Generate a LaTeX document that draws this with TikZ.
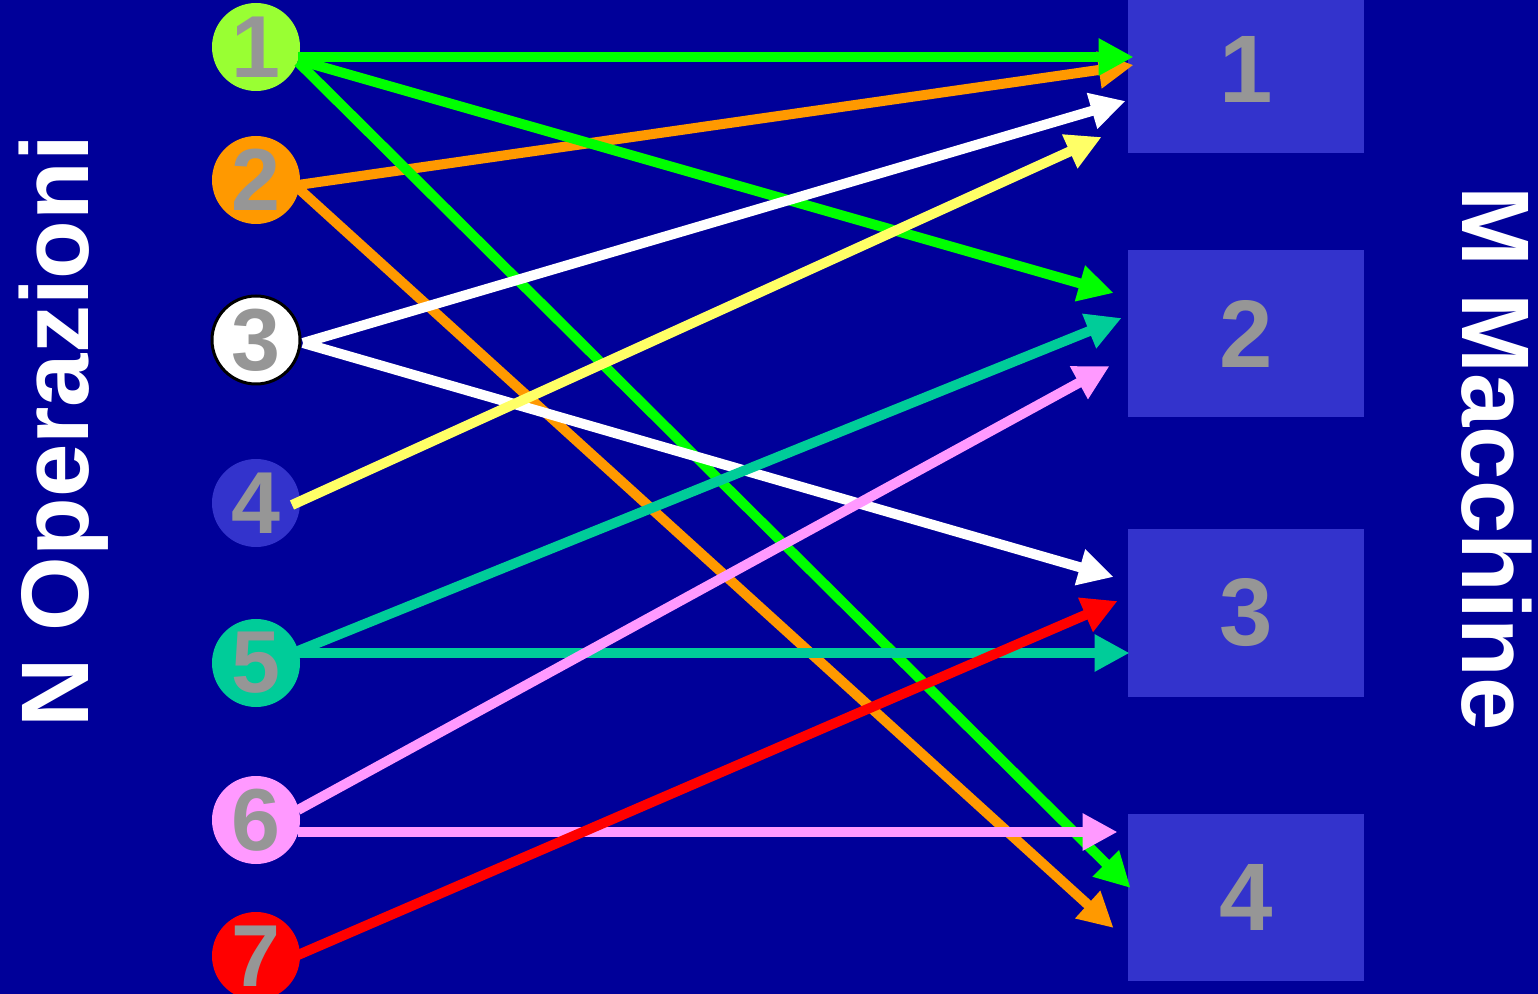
\documentclass[tikz,border=0pt]{standalone}
\usepackage{fontspec}
\setmainfont{Liberation Sans}
\usetikzlibrary{arrows.meta,calc}
\definecolor{bg}{HTML}{000099}
\definecolor{boxc}{HTML}{3333CC}
\definecolor{digit}{HTML}{969696}
\definecolor{cgreen}{HTML}{00FF00}
\definecolor{cone}{HTML}{99FF33}
\definecolor{corange}{HTML}{FF9900}
\definecolor{cyellow}{HTML}{FFFF66}
\definecolor{cteal}{HTML}{00CC99}
\definecolor{cpink}{HTML}{FF99FF}
\definecolor{cred}{HTML}{FF0000}
\begin{document}
\begin{tikzpicture}[x=0.5pt,y=-0.5pt,
  op/.style={circle,minimum size=44pt,inner sep=0pt,text=digit,font=\fontsize{44}{44}\selectfont\bfseries},
  mach/.style={rectangle,fill=boxc,minimum width=118pt,minimum height=83.5pt,inner sep=0pt,text=digit,font=\fontsize{48}{48}\selectfont\bfseries},
  conn/.style={line width=5pt,-{Triangle[length=17.5pt,width=17.5pt]}},
  side/.style={text=white,font=\fontsize{48}{48}\selectfont\bfseries,inner sep=0pt}]
\fill[bg] (0,0) rectangle (1538,994);
\useasboundingbox (0,0) rectangle (1538,994);

% machines
\node[mach] (m1) at (1246,69.5) {1};
\node[mach] (m2) at (1246,333.5) {2};
\node[mach] (m3) at (1246,613) {3};
\node[mach] (m4) at (1246,897) {4};

% operations
\node[op,fill=cone] (c1) at (256,47) {1};
\node[op,fill=corange] (c2) at (256,180) {2};
\node[op,fill=white,draw=black,line width=1.5pt] (c3) at (256,340) {3};
\node[op,fill=boxc] (c4) at (256,503) {4};
\node[op,fill=cteal] (c5) at (256,663) {5};
\node[op,fill=cpink] (c6) at (256,820) {6};
\node[op,fill=cred] (c7) at (256,956) {7};

% side labels
\node[side,rotate=90,anchor=base] (lop) at (88,431) {N Operazioni};
\node[side,rotate=-90,anchor=base] (lmc) at (1462,459) {M Macchine};

% connectors
\draw[conn,corange] ($(c2.center)+(42,5)$) -- ($(m1.west)+(6,-4.5)$);
\draw[conn,corange] ($(c2.center)+(42,8)$) -- ($(m4.west)+(-14,31)$);
\draw[conn,cgreen] ($(c1.center)+(42,10)$) -- ($(m1.west)+(6,-12.5)$);
\draw[conn,cgreen] ($(c1.center)+(42,13)$) -- ($(m2.west)+(-14,-40.5)$);
\draw[conn,cgreen] ($(c1.center)+(42,15)$) -- ($(m4.west)+(3,-9)$);
\draw[conn,white] ($(c3.center)+(47,3)$) -- ($(m1.west)+(-2,31.5)$);
\draw[conn,white] ($(c3.center)+(47,3)$) -- ($(m3.west)+(-14,-36)$);
\draw[conn,cyellow] ($(c4.center)+(36,2)$) -- ($(m1.west)+(-26,67.5)$);
\draw[conn,cteal] ($(c5.center)+(42,-12)$) -- ($(m2.west)+(-6,-15.5)$);
\draw[conn,cteal] ($(c5.center)+(42,-10)$) -- ($(m3.west)+(2,40)$);
\draw[conn,cpink] ($(c6.center)+(42,-10)$) -- ($(m2.west)+(-18,32.5)$);
\draw[conn,cpink] ($(c6.center)+(42,12)$) -- ($(m4.west)+(-10,-65)$);
\draw[conn,cred] ($(c7.center)+(42,-1)$) -- ($(m3.west)+(-10,-12)$);
\end{tikzpicture}
\end{document}
